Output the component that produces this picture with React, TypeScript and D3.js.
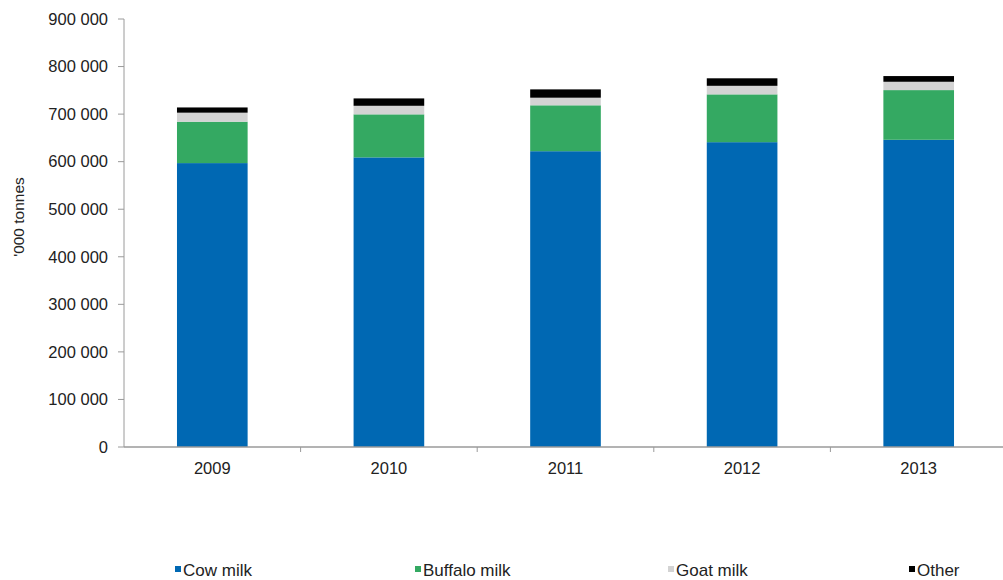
import React from "react";
import * as d3 from "d3";

const years = ["2009", "2010", "2011", "2012", "2013"];
const cowMilk = [597000, 609000, 622000, 641000, 646000];
const buffaloMilk = [87000, 90500, 96500, 100500, 104500];
const goatMilk = [19000, 18000, 16000, 18000, 17500];
const otherMilk = [11000, 15500, 17500, 15800, 12000];
const seriesNames = ["Cow milk", "Buffalo milk", "Goat milk", "Other"];
const seriesColors = ["#0068b3", "#34a962", "#d3d3d3", "#000000"];
const yTicks = [0, 100000, 200000, 300000, 400000, 500000, 600000, 700000, 800000, 900000];
const yAxisLabel = "'000 tonnes";

const W = 1003;
const H = 580;
const FONT = "'Liberation Sans', Arial, sans-serif";

export default function App() {
  const rows = years.map((y, i) => ({
    year: y,
    cow: cowMilk[i],
    buffalo: buffaloMilk[i],
    goat: goatMilk[i],
    other: otherMilk[i],
  }));
  const keys = ["cow", "buffalo", "goat", "other"];
  const stacked = d3.stack<any>().keys(keys)(rows);

  const x = d3.scaleBand().domain(years).range([124, 1007]).padding(0);
  const y = d3.scaleLinear().domain([0, 900000]).range([447, 19]);
  const barW = x.bandwidth() * 0.4;
  const fmt = (v: number) => d3.format(",")(v).replace(/,/g, " ");
  const axisColor = "#9a9a9a";
  const textColor = "#222";

  const legendX = [175, 415, 668, 909];

  return (
    <div style={{ position: "absolute", left: 0, top: 0 }}>
      <svg width={W} height={H} style={{ display: "block", background: "#fff" }}>
        {/* bars */}
        {stacked.map((s, si) => (
          <g key={si} fill={seriesColors[si]}>
            {s.map((d, i) => {
              const cx = (x(years[i]) as number) + x.bandwidth() / 2;
              return (
                <rect
                  key={i}
                  x={cx - barW / 2}
                  y={y(d[1])}
                  width={barW}
                  height={y(d[0]) - y(d[1])}
                />
              );
            })}
          </g>
        ))}
        {/* y axis */}
        <line x1={124} x2={124} y1={y(900000)} y2={y(0)} stroke={axisColor} strokeWidth={1} />
        {yTicks.map((t) => (
          <g key={t}>
            <line x1={118} x2={124} y1={y(t)} y2={y(t)} stroke={axisColor} />
            <text
              x={108}
              y={y(t)}
              dy="0.35em"
              textAnchor="end"
              fontFamily={FONT}
              fontSize={16.5}
              fill={textColor}
            >
              {fmt(t)}
            </text>
          </g>
        ))}
        {/* x axis */}
        <line x1={124} x2={1007} y1={y(0)} y2={y(0)} stroke={axisColor} strokeWidth={1.5} />
        {years.map((yr, i) => (
          <g key={yr}>
            <line
              x1={(x(yr) as number) + x.bandwidth()}
              x2={(x(yr) as number) + x.bandwidth()}
              y1={y(0)}
              y2={y(0) + 5}
              stroke={axisColor}
            />
            <text
              x={(x(yr) as number) + x.bandwidth() / 2}
              y={474}
              textAnchor="middle"
              fontFamily={FONT}
              fontSize={16.5}
              fill={textColor}
            >
              {yr}
            </text>
          </g>
        ))}
        {/* y label */}
        <text
          transform={`translate(24, 217) rotate(-90)`}
          textAnchor="middle"
          fontFamily={FONT}
          fontSize={15.5}
          fill={textColor}
        >
          {yAxisLabel}
        </text>
        {/* legend */}
        {seriesNames.map((n, i) => (
          <g key={n}>
            <rect x={legendX[i]} y={566} width={6} height={6} fill={seriesColors[i]} />
            <text
              x={legendX[i] + 8}
              y={576}
              fontFamily={FONT}
              fontSize={17}
              fill={textColor}
            >
              {n}
            </text>
          </g>
        ))}
      </svg>
    </div>
  );
}
